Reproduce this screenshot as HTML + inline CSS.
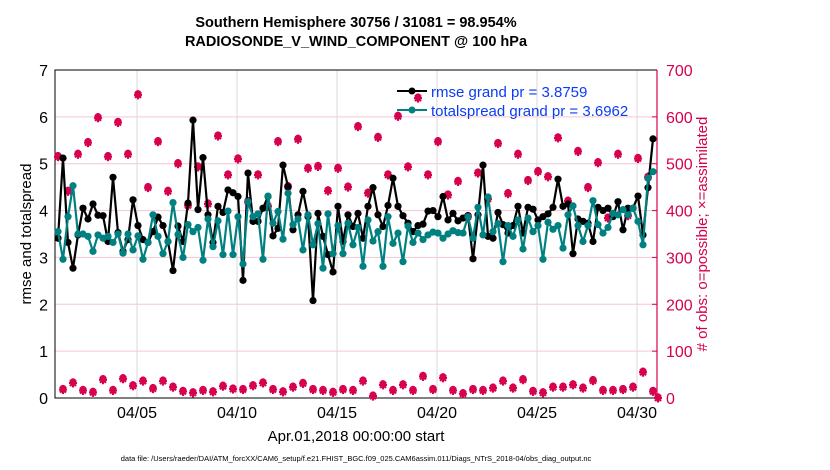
<!DOCTYPE html>
<html><head><meta charset="utf-8"><style>
body{margin:0;background:#fff;}
svg{display:block;font-family:"Liberation Sans",sans-serif;}
</style></head><body>
<svg id="chart" width="830" height="470" viewBox="0 0 830 470" xmlns="http://www.w3.org/2000/svg">
<rect width="830" height="470" fill="#fff"/>
<text x="356" y="27" text-anchor="middle" font-size="14.5" font-weight="bold">Southern Hemisphere 30756 / 31081 = 98.954%</text>
<text x="356" y="46" text-anchor="middle" font-size="14.5" font-weight="bold">RADIOSONDE_V_WIND_COMPONENT @ 100 hPa</text>
<g id="grid"></g>
<g id="axes"></g>
<g id="marks"></g>
<g id="legend">
<line x1="397" y1="91" x2="427" y2="91" stroke="#000" stroke-width="2"/>
<circle cx="412" cy="91" r="3.5" fill="#000"/>
<text x="431" y="97" font-size="15" fill="#0b3cf5">rmse grand pr = 3.8759</text>
<line x1="397" y1="110" x2="427" y2="110" stroke="#008080" stroke-width="2"/>
<circle cx="412" cy="110" r="3.5" fill="#008080"/>
<text x="431" y="116" font-size="15" fill="#0b3cf5">totalspread grand pr = 3.6962</text>
</g>
<text transform="translate(31,234) rotate(-90)" text-anchor="middle" font-size="15">rmse and totalspread</text>
<text transform="translate(707,234) rotate(-90)" text-anchor="middle" font-size="15" fill="#d6004f"># of obs: o=possible; ×=assimilated</text>
<text x="356" y="441" text-anchor="middle" font-size="15">Apr.01,2018 00:00:00 start</text>
<text x="356" y="461" text-anchor="middle" font-size="7.5">data file: /Users/raeder/DAI/ATM_forcXX/CAM6_setup/f.e21.FHIST_BGC.f09_025.CAM6assim.011/Diags_NTrS_2018-04/obs_diag_output.nc</text>
</svg>
<script>
const rmse=[3.41,5.12,3.32,2.77,3.48,4.05,3.82,4.14,3.9,3.89,3.34,4.71,3.53,3.13,3.38,4.23,3.68,3.38,3.32,3.55,3.86,3.68,3.34,2.72,3.67,3.34,4.16,5.93,4.02,5.13,3.91,3.32,4.09,3.96,4.44,4.38,4.3,2.51,4.8,3.77,
3.77,4.05,4.3,3.46,3.62,4.97,4.51,3.59,3.91,4.41,3.87,2.08,3.94,3.45,3.06,2.69,4.09,3.34,3.91,3.66,3.94,3.41,4.09,4.49,3.91,3.66,4.11,4.69,4.09,3.89,3.73,3.55,3.68,3.71,3.99,4.0,3.87,4.3,3.8,3.94,
3.78,3.84,3.89,2.97,3.91,4.97,3.45,3.41,3.96,3.7,3.52,3.68,4.09,3.52,4.07,4.03,3.8,3.87,3.93,4.07,4.67,4.09,4.14,3.08,3.82,3.77,3.73,3.34,4.07,4.0,4.05,3.87,4.19,3.59,4.05,4.05,4.31,3.48,4.49,5.53];
const spread=[3.55,2.96,3.87,4.53,3.5,3.5,3.45,3.13,3.48,3.41,3.45,3.32,3.5,3.09,3.5,3.16,3.46,2.96,3.32,3.91,3.45,3.08,3.34,4.17,3.49,3.0,3.7,3.55,3.64,2.94,3.82,3.23,3.78,3.06,3.99,3.06,3.87,2.86,4.19,3.87,
3.93,2.96,4.31,3.73,3.98,3.39,4.37,3.7,3.82,3.16,3.91,3.27,3.72,2.77,3.93,3.08,3.68,3.08,3.73,3.27,3.64,2.81,3.8,3.35,3.55,2.81,3.87,3.3,3.52,2.91,3.67,3.32,3.52,3.38,3.48,3.54,3.52,3.41,3.5,3.57,
3.53,3.52,3.87,3.41,4.07,3.48,4.29,3.55,3.72,2.91,3.68,3.45,3.8,3.18,3.84,3.55,3.68,2.96,3.75,3.6,3.68,3.2,3.91,4.1,3.68,3.34,3.68,4.21,3.7,3.52,3.64,3.94,3.91,4.02,3.91,4.05,3.77,3.27,4.69,4.83];
const nobs=[515,18,441,32,520,16,545,12,598,39,515,16,588,41,520,26,647,36,449,20,547,36,441,23,500,14,411,11,493,16,414,13,559,25,476,19,510,18,419,26,
476,32,409,18,547,13,451,23,552,31,490,18,494,16,442,12,490,18,450,16,579,36,437,4,556,28,476,16,601,28,493,16,640,46,476,18,547,43,433,16,
462,9,387,18,480,16,425,21,543,36,436,21,520,39,464,14,483,11,472,23,555,23,420,28,526,21,449,37,502,16,384,16,520,18,389,23,511,55,471,14,0];
const dateTicks=["04/05","04/10","04/15","04/20","04/25","04/30"];
const dateTickDays=[4,9,14,19,24,29];
const leftTicks=[0,1,2,3,4,5,6,7];
const rightTicks=[0,100,200,300,400,500,600,700];

const X0=57,X1=657,Y0=398,Y1=70;
const xDay=d=>X0+(X1-X0)*d/30;
const xIdx=i=>xDay(i*0.25)+1;
const yL=v=>Y0-(Y0-Y1)*v/7;
const yR=v=>Y0-(Y0-Y1)*v/700;
const NS="http://www.w3.org/2000/svg";
function mk(tag,attrs,parent){const e=document.createElementNS(NS,tag);for(const k in attrs)e.setAttribute(k,attrs[k]);parent.appendChild(e);return e;}
const grid=document.getElementById('grid'),axes=document.getElementById('axes'),marks=document.getElementById('marks');

leftTicks.forEach(v=>{
  if(v>0&&v<7){const l=mk('line',{x1:55,x2:X1,y1:yL(v),y2:yL(v),stroke:'#f3c6d6','stroke-width':1},grid);
  
  }
  const t=mk('text',{x:48,y:yL(v)+6,'text-anchor':'end','font-size':16},axes);t.textContent=v;
  
  
});
rightTicks.forEach(v=>{
  const t=mk('text',{x:666,y:yR(v)+6,'font-size':16,fill:'#d6004f'},axes);t.textContent=v;
  
  
  mk('line',{x1:X1-5,x2:X1,y1:yR(v),y2:yR(v),stroke:'#d6004f'},axes);
});
dateTicks.forEach((s,k)=>{
  const x=xDay(dateTickDays[k]);
  const l=mk('line',{x1:x,x2:x,y1:Y1,y2:Y0,stroke:'#d8d8d8','stroke-width':1},grid);
  
  
  const t=mk('text',{x:x,y:418,'text-anchor':'middle','font-size':16},axes);t.textContent=s;
  
  
});
const frame=mk('path',{d:`M${X1},${Y1} L55,${Y1} L55,${Y0} L${X1},${Y0}`,fill:'none',stroke:'#000','stroke-width':1},axes);


const raxis=mk('line',{x1:X1,x2:X1,y1:Y1,y2:Y0,stroke:'#d6004f','stroke-width':1.2},axes);



nobs.forEach((v,i)=>{
  const x=xIdx(i),y=yR(v);
  const g=mk('g',{stroke:'#d6004f','stroke-width':2.2},marks);
  
  
  mk('line',{x1:x-4,x2:x+4,y1:y,y2:y},g);
  mk('line',{x1:x,x2:x,y1:y-4.5,y2:y+4.5},g);
  mk('line',{x1:x-3,x2:x+3,y1:y-3,y2:y+3},g);
  mk('line',{x1:x-3,x2:x+3,y1:y+3,y2:y-3},g);
  mk('circle',{cx:x,cy:y-1.5,r:2.5,fill:'none','stroke-width':1.5},g);
});
function series(arr,color,name){
  const d=arr.map((v,i)=>(i?'L':'M')+xIdx(i).toFixed(1)+','+yL(v).toFixed(1)).join(' ');
  const p=mk('path',{d:d,fill:'none',stroke:color,'stroke-width':2.2,'stroke-linejoin':'round'},marks);
  
  
  arr.forEach((v,i)=>{
    const c=mk('circle',{cx:xIdx(i),cy:yL(v),r:3.6,fill:color},marks);
    
    
  });
}
series(rmse,'#000','rmse');
series(spread,'#008080','totalspread');
</script>
</body></html>
